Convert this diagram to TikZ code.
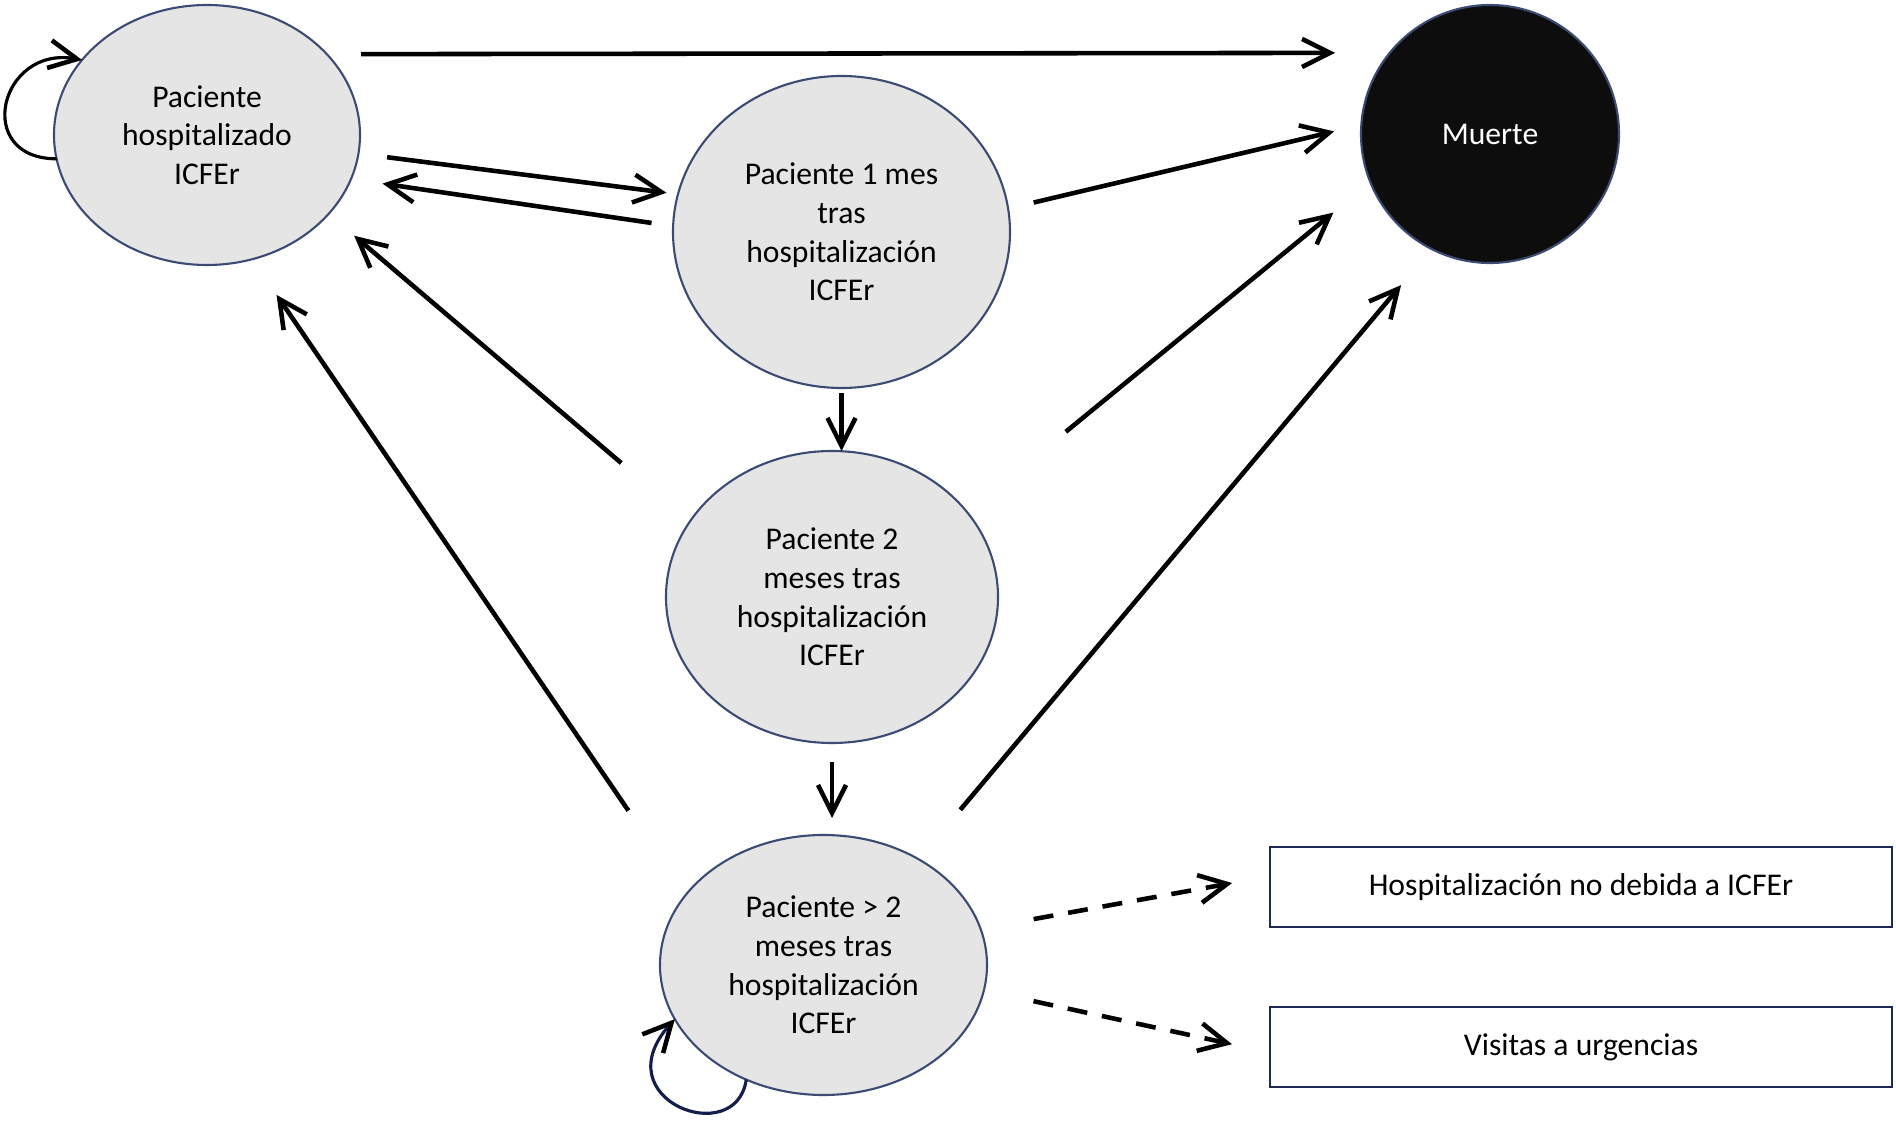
\documentclass[tikz,border=0pt]{standalone}
\usepackage{fontspec}
\setmainfont{Carlito}
\usetikzlibrary{arrows.meta}
\usetikzlibrary{automata,positioning,shapes}

\definecolor{nodeline}{RGB}{60,75,115}
\definecolor{nodefill}{RGB}{229,229,229}
\definecolor{boxline}{RGB}{30,40,80}
\definecolor{loopline}{RGB}{20,30,75}

\begin{document}
\begin{tikzpicture} [->,>={Straight Barb[length=2.8mm,width=2.8mm]},line width=1.3pt,
  estado/.style={ellipse,draw=nodeline,fill=nodefill,line width=0.6pt,inner sep=0pt,outer sep=0pt,align=center,font=\fontsize{9}{11}\selectfont},
  caja/.style={rectangle,draw=boxline,line width=0.8pt,minimum width=6.22cm,minimum height=0.8cm,inner sep=0pt,outer sep=0pt,font=\fontsize{9}{11}\selectfont}]

  \useasboundingbox (0,0) rectangle (18.96,11.25);

  \node[estado,minimum width=3.06cm,minimum height=2.60cm] (1) at (2.07,9.90) {Paciente\\hospitalizado\\ICFEr};
  \node[estado,minimum width=3.37cm,minimum height=3.12cm] (2) at (8.415,8.93) {Paciente 1 mes\\tras\\hospitalización\\ICFEr};
  \node[estado,minimum width=3.32cm,minimum height=2.92cm] (3) at (8.32,5.28) {Paciente 2\\meses tras\\hospitalización\\ICFEr};
  \node[estado,minimum width=3.27cm,minimum height=2.60cm] (4) at (8.235,1.60) {Paciente > 2\\meses tras\\hospitalización\\ICFEr};
  \node[estado,circle,fill=black!95,text=white,minimum size=2.58cm] (5) at (14.90,9.91) {Muerte};
  \node[caja] (6) at (15.81,2.38) {Hospitalización no debida a ICFEr};
  \node[caja] (7) at (15.81,0.78) {Visitas a urgencias};

  \path
    (1.34.6) edge [shorten <=3.43mm,shorten >=5.46mm] (5.141.1)
    (1.-7.3) edge [shorten <=2.89mm,shorten >=1.16mm] (2.167)
    (1.189) edge [line width=0.9pt,out=180,in=170,looseness=2.1,
                  -{Straight Barb[length=2.8mm,width=2.8mm,line width=1.3pt]}] (1.149)
    (2.178.7) edge [shorten <=2.18mm,shorten >=3.19mm] (1.-17.6)
    (2.8.2) edge [shorten <=2.63mm,shorten >=2.79mm] (5.176.8)
    (2.south) edge [shorten <=0.5mm] (2.south |- 3.north)
    (3.152.9) edge [shorten <=9.02mm,shorten >=3.36mm] (1.-33.7)
    (3.32.1) edge [shorten <=12.73mm,shorten >=4.78mm] (5.202.7)
    (3.south) edge [shorten <=1.9mm,shorten >=1.7mm] (3.south |- 4.north)
    (4.153.2) edge [shorten <=10.2mm,shorten >=4.32mm] (1.-70.2)
    (4.48.6) edge [shorten <=6.47mm,shorten >=4.72mm] (5.-117)
    (4.13.9) edge [dash pattern=on 2mm off 1.5mm,shorten <=5.4mm,shorten >=3.85mm] (6.178.9)
    (4.-9.6) edge [dash pattern=on 2mm off 1.5mm,shorten <=5.08mm,shorten >=3.89mm] (7.181.5)
    (4.-124) edge [draw=loopline,line width=0.9pt,out=-98,in=228,out distance=0.71cm,in distance=1.09cm,
                   -{Straight Barb[length=2.8mm,width=2.8mm,line width=1.3pt,color=black]}] (4.-160);

\end{tikzpicture}
\end{document}
